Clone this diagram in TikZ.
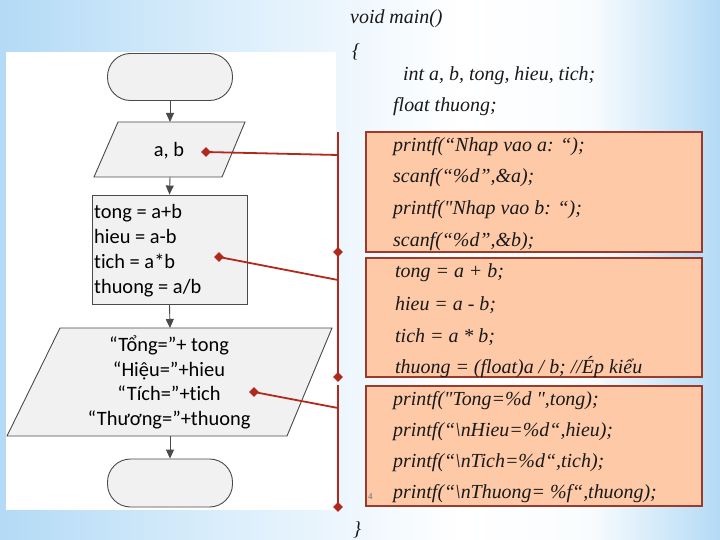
\documentclass[tikz,border=0pt]{standalone}
\usepackage{fontspec}
\setmainfont{Liberation Serif}
\newfontfamily\flowfont{Carlito}[Ligatures={NoCommon,NoDiscretionary,NoContextual}]
\usetikzlibrary{shapes.geometric,arrows.meta}
\definecolor{bgA}{HTML}{B3DAF6}
\definecolor{bgB}{HTML}{D9EDFB}
\definecolor{codefill}{HTML}{FDC9A6}
\definecolor{codeborder}{HTML}{9A3B2C}
\definecolor{callred}{HTML}{B0291C}
\definecolor{flowfill}{HTML}{F1F1F1}
\definecolor{flowline}{HTML}{4A4A4A}
\pgfdeclarehorizontalshading{bgshade}{100bp}{color(0bp)=(bgA); color(25bp)=(bgA); color(40bp)=(bgB); color(57bp)=(white); color(66bp)=(white!92!bgA); color(75bp)=(bgA); color(100bp)=(bgA)}
\tikzset{
  flowshape/.style={draw=flowline, fill=flowfill, line width=0.9bp},
  term/.style={flowshape, rounded corners=23bp, minimum width=125bp, minimum height=47bp, inner sep=0pt},
  flowtext/.style={font=\flowfont\fontsize{20.5}{24.5}\selectfont, inner sep=0pt, text=black},
  flowarrow/.style={draw=flowline, line width=0.9bp, -{Triangle[width=8bp,length=9bp]}},
  codebox/.style={draw=codeborder, fill=codefill, line width=2bp},
  codeline/.style={anchor=base west, inner sep=0pt, font=\itshape\fontsize{20}{20}\selectfont, text=black!90},
  redline/.style={draw=callred, line width=1.8bp},
  reddia/.style={diamond, fill=callred, minimum size=10bp, inner sep=0pt}
}
\begin{document}
\begin{tikzpicture}[x=1bp,y=-1bp]
% background
\shade[shading=bgshade] (0,0) rectangle (720,540);
\useasboundingbox (0,0) rectangle (720,540);
% white panel
\fill[white] (6,52) rectangle (336,510);

% code boxes
\draw[codebox] (366,132) rectangle (702,252);
\draw[codebox] (366,258) rectangle (702,377);
\draw[codebox] (366,386) rectangle (702,506);

% code text
\node[codeline] (c1) at (350,24) {void main()};
\node[codeline] (c2) at (352,58) {\{};
\node[codeline] (c3) at (403,81) {int a, b, tong, hieu, tich;};
\node[codeline] (c4) at (393,112) {float thuong;};
\node[codeline] (c5) at (393,152) {printf(“Nhap vao a: “);};
\node[codeline] (c6) at (393,183) {scanf(“\%d”,\&a);};
\node[codeline] (c7) at (393,215) {printf(\textquotedbl Nhap vao b: “);};
\node[codeline] (c8) at (393,247) {scanf(“\%d”,\&b);};
\node[codeline] (c9) at (395,278) {tong = a + b;};
\node[codeline] (c10) at (395,310) {hieu = a - b;};
\node[codeline] (c11) at (395,342) {tich = a * b;};
\node[codeline] (c12) at (395,373) {thuong = (float)a / b; //Ép kiểu};
\node[codeline] (c13) at (393,405) {printf(\textquotedbl Tong=\%d \textquotedbl,tong);};
\node[codeline] (c14) at (393,436) {printf(“\textbackslash nHieu=\%d“,hieu);};
\node[codeline] (c15) at (393,467) {printf(“\textbackslash nTich=\%d“,tich);};
\node[codeline] (c16) at (393,498) {printf(“\textbackslash nThuong= \%f“,thuong);};
\node[codeline] (c17) at (353,535) {\}};
\node[anchor=base west, inner sep=0pt, font=\bfseries\fontsize{9}{9}\selectfont, text=black!45] (pg) at (368,499) {4};

% flowchart
\node[term] (start) at (170,77) {};
\draw[flowshape] (118,122) -- (245,122) -- (222,177) -- (94,177) -- cycle;
\coordinate (abT) at (170,122);
\coordinate (abB) at (170,177);
\node[flowtext, anchor=base] (ab) at (169,157) {a, b};

\node[flowshape, minimum width=155bp, minimum height=109bp, inner sep=0pt] (proc) at (169.5,249.5) {};
\node[flowtext, anchor=base west] (p1) at (94,219) {tong = a+b};
\node[flowtext, anchor=base west] (p2) at (94,244) {hieu = a-b};
\node[flowtext, anchor=base west] (p3) at (94,268.5) {tich = a*b};
\node[flowtext, anchor=base west] (p4) at (94,293) {thuong = a/b};

\draw[flowshape] (60,328) -- (332,328) -- (287,436) -- (7,436) -- cycle;
\coordinate (outT) at (170,328);
\coordinate (outB) at (170,436);
\node[flowtext, anchor=base] (o1) at (169,351) {“Tổng=”+ tong};
\node[flowtext, anchor=base] (o2) at (169,376) {“Hiệu=”+hieu};
\node[flowtext, anchor=base] (o3) at (169,400.5) {“Tích=”+tich};
\node[flowtext, anchor=base] (o4) at (169,425) {“Thương=”+thuong};

\node[term, minimum height=48bp] (end) at (170,483) {};

\draw[flowarrow] (start.south) -- (abT);
\draw[flowarrow] (abB) -- (proc.north);
\draw[flowarrow] (proc.south) -- (outT);
\draw[flowarrow] (outB) -- (end.north);

% red callouts
\coordinate (v1t) at (338,132);
\coordinate (j1) at (338,155);
\coordinate (j2) at (338,280);
\coordinate (v3t) at (338,385);
\coordinate (j3) at (338,408);
\coordinate (d1) at (206,152);
\coordinate (d2) at (219,257);
\coordinate (d3) at (254,392);
\coordinate (e1) at (338,252);
\coordinate (e2) at (338,377);
\coordinate (e3) at (338,507);
\draw[redline] (v1t) -- (e1);
\draw[redline] (e1) -- (e2);
\draw[redline] (v3t) -- (e3);
\draw[redline] (j1) -- (d1);
\draw[redline] (j2) -- (d2);
\draw[redline] (j3) -- (d3);
\node[reddia] (m1) at (d1) {};
\node[reddia] (m2) at (d2) {};
\node[reddia] (m3) at (d3) {};
\node[reddia] (m4) at (e1) {};
\node[reddia] (m5) at (e2) {};
\node[reddia] (m6) at (e3) {};
\end{tikzpicture}
\end{document}
